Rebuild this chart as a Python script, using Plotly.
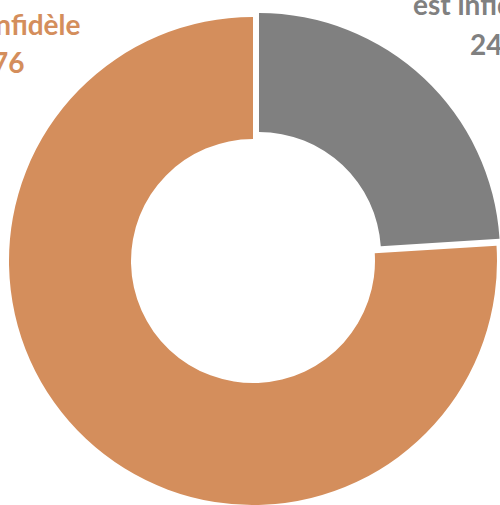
import plotly.graph_objects as go

# Data
categories = ["est infidèle", "pas infidèle"]
values = [24, 76]
label_texts = ["est infidèle", "pas infidèle"]

ORANGE = "rgb(212,142,92)"
GRAY = "rgb(128,128,128)"
CLEAR = "rgba(0,0,0,0)"

W, H = 500, 505

def xdom(cx, r):
    return [max(0, (cx - r) / W), min(1, (cx + r) / W)]

def ydom(cy, r):
    return [max(0, (H - (cy + r)) / H), min(1, (H - (cy - r)) / H)]

fig = go.Figure()

# orange (base) ring
r1, cx1, cy1 = 244, 253, 261
fig.add_trace(go.Pie(
    labels=categories, values=values, sort=False, direction="clockwise", rotation=0,
    hole=122 / r1, textinfo="none", hoverinfo="label+value",
    marker=dict(colors=[CLEAR, ORANGE], line=dict(width=0)),
    domain=dict(x=xdom(cx1, r1), y=ydom(cy1, r1)), showlegend=False,
))

# gray exploded slice
r2, cx2, cy2 = 241, 259, 254
fig.add_trace(go.Pie(
    labels=categories, values=values, sort=False, direction="clockwise", rotation=0,
    hole=122 / r2, textinfo="none", hoverinfo="label+value",
    marker=dict(colors=[GRAY, CLEAR], line=dict(width=0)),
    domain=dict(x=[(cx2 - r2) / W, 1.0], y=ydom(cy2, r2)), showlegend=False,
))

font = dict(family="Lato", size=28, weight="bold")

def label(text, x_px, mid_px, anchor, color):
    fig.add_annotation(
        text=text, xref="paper", yref="paper",
        x=x_px / W, y=1 - mid_px / H, xanchor=anchor, yanchor="middle",
        showarrow=False, font=dict(font, color=color),
    )

# orange slice label (left)
label(label_texts[1], 82, 24, "right", ORANGE)
label(str(values[1]), 26, 62, "right", ORANGE)
# gray slice label (right)
label(label_texts[0], 411, 4, "left", GRAY)
label(str(values[0]), 468, 44, "left", GRAY)

fig.update_layout(
    width=W, height=H, margin=dict(l=0, r=0, t=0, b=0),
    paper_bgcolor="white", plot_bgcolor="white", showlegend=False,
)
fig.write_html("out.html", config={"displayModeBar": False},
               post_script="document.body.style.margin='0';")
